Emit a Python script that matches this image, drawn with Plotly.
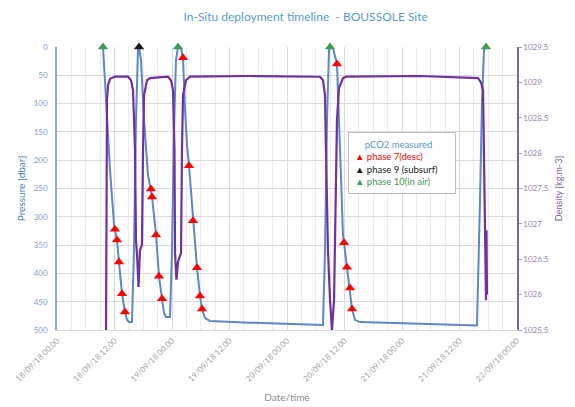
import plotly.graph_objects as go

# ---------------- data ----------------
# Pressure (pCO2 measured) profile: time, pressure [dbar]
pres_time = [
    "2018-09-18 09:36", "2018-09-18 10:14", "2018-09-18 11:04", "2018-09-18 11:54",
    "2018-09-18 12:06", "2018-09-18 12:31", "2018-09-18 12:56", "2018-09-18 13:34",
    "2018-09-18 14:11", "2018-09-18 14:37", "2018-09-18 15:02", "2018-09-18 15:39",
    "2018-09-18 16:04", "2018-09-18 16:29", "2018-09-18 16:54", "2018-09-18 17:07",
    "2018-09-18 17:32", "2018-09-18 18:10", "2018-09-18 18:59", "2018-09-18 19:37",
    "2018-09-18 19:50", "2018-09-18 20:40", "2018-09-18 21:17", "2018-09-18 21:55",
    "2018-09-18 22:20", "2018-09-18 22:45", "2018-09-18 23:35", "2018-09-19 00:00",
    "2018-09-19 00:25", "2018-09-19 00:50", "2018-09-19 01:15", "2018-09-19 01:53",
    "2018-09-19 02:18", "2018-09-19 02:43", "2018-09-19 03:08", "2018-09-19 03:33",
    "2018-09-19 04:23", "2018-09-19 05:13", "2018-09-19 05:51", "2018-09-19 06:16",
    "2018-09-19 06:53", "2018-09-19 07:56", "2018-09-19 16:17", "2018-09-20 02:43",
    "2018-09-20 07:31", "2018-09-20 07:56", "2018-09-20 08:21", "2018-09-20 08:46",
    "2018-09-20 09:11", "2018-09-20 09:36", "2018-09-20 10:26", "2018-09-20 11:04",
    "2018-09-20 11:41", "2018-09-20 11:54", "2018-09-20 12:31", "2018-09-20 13:09",
    "2018-09-20 13:34", "2018-09-20 14:11", "2018-09-20 15:14", "2018-09-21 03:46",
    "2018-09-21 15:39", "2018-09-21 16:17", "2018-09-21 16:42", "2018-09-21 17:07",
    "2018-09-21 17:32",
]
pres_val = [
    0, 94, 217, 314,
    322, 341, 380, 436,
    468, 482, 486, 486,
    359, 129, 5, 0,
    23, 129, 226, 251,
    265, 332, 405, 445,
    470, 477, 477, 359,
    147, 23, 0, 2,
    19, 111, 173, 210,
    307, 390, 440, 463,
    479, 484, 487, 489,
    491, 359, 129, 5,
    0, 2, 30, 182,
    332, 346, 389, 426,
    463, 482, 486, 489,
    492, 270, 94, 5,
    0,
]

# Density profile: time, density [kg.m-3]
dens_time = [
    "2018-09-18 10:14", "2018-09-18 10:20", "2018-09-18 10:26", "2018-09-18 10:39",
    "2018-09-18 11:04", "2018-09-18 12:06", "2018-09-18 14:49", "2018-09-18 15:27",
    "2018-09-18 15:52", "2018-09-18 16:17", "2018-09-18 16:29", "2018-09-18 16:42",
    "2018-09-18 17:01", "2018-09-18 17:19", "2018-09-18 17:44", "2018-09-18 17:57",
    "2018-09-18 18:10", "2018-09-18 18:47", "2018-09-18 19:25", "2018-09-18 23:10",
    "2018-09-18 23:47", "2018-09-19 00:13", "2018-09-19 00:31", "2018-09-19 00:38",
    "2018-09-19 00:56", "2018-09-19 01:15", "2018-09-19 01:53", "2018-09-19 02:05",
    "2018-09-19 02:18", "2018-09-19 02:55", "2018-09-19 03:45", "2018-09-19 16:17",
    "2018-09-20 06:53", "2018-09-20 07:31", "2018-09-20 07:56", "2018-09-20 08:08",
    "2018-09-20 08:33", "2018-09-20 08:59", "2018-09-20 09:23", "2018-09-20 09:49",
    "2018-09-20 10:14", "2018-09-20 10:26", "2018-09-20 10:51", "2018-09-20 11:41",
    "2018-09-20 12:19", "2018-09-21 03:46", "2018-09-21 15:52", "2018-09-21 16:29",
    "2018-09-21 16:55", "2018-09-21 17:07", "2018-09-21 17:19", "2018-09-21 17:32",
    "2018-09-21 17:38", "2018-09-21 17:44",
]
dens_val = [
    1025.5, 1028.04, 1028.75, 1028.96,
    1029.05, 1029.08, 1029.08, 1029.03,
    1028.89, 1028.04, 1026.77, 1026.56,
    1026.11, 1026.63, 1026.70, 1028.04,
    1028.82, 1029.03, 1029.06, 1029.08,
    1029.03, 1028.89, 1028.04, 1026.59,
    1026.21, 1026.46, 1026.59, 1028.04,
    1028.82, 1029.03, 1029.08, 1029.09,
    1029.08, 1029.03, 1028.82, 1028.04,
    1026.63, 1025.92, 1025.5, 1025.92,
    1027.34, 1028.47, 1028.92, 1029.06,
    1029.08, 1029.09, 1029.06, 1029.0,
    1028.89, 1028.04, 1026.63, 1025.92,
    1026.91, 1026.0,
]

# phase 7 (descent) markers
p7_time = [
    "2018-09-18 12:06", "2018-09-18 12:31", "2018-09-18 12:56", "2018-09-18 13:34", "2018-09-18 14:11",
    "2018-09-18 19:37", "2018-09-18 19:50", "2018-09-18 20:40", "2018-09-18 21:17", "2018-09-18 21:55",
    "2018-09-19 02:18", "2018-09-19 03:33", "2018-09-19 04:23", "2018-09-19 05:13", "2018-09-19 05:51",
    "2018-09-19 06:16",
    "2018-09-20 10:26", "2018-09-20 11:54", "2018-09-20 12:31", "2018-09-20 13:09", "2018-09-20 13:34",
]
p7_val = [
    322, 341, 380, 436, 468,
    251, 265, 332, 405, 445,
    19, 210, 307, 390, 440,
    463,
    30, 346, 389, 426, 463,
]

# phase 9 (subsurf) markers
p9_time = ["2018-09-18 17:07"]
p9_val = [0]

# phase 10 (in air) markers
p10_time = ["2018-09-18 09:36", "2018-09-19 01:15", "2018-09-20 08:59", "2018-09-21 17:32"]
p10_val = [0, 0, 0, 0]

legend_labels = ["pCO2 measured", "phase 7(desc)", "phase 9 (subsurf)", "phase 10(in air)"]

# ---------------- styles ----------------
BLUE = "#5b87cc"
PURPLE = "#7030a0"
RED = "#ff0000"
BLACK = "#1a1a1a"
GREEN = "#3f9a55"
FONT = "Lato"

fig = go.Figure()

fig.add_trace(go.Scatter(x=dens_time, y=dens_val, mode="lines", yaxis="y2",
                         line=dict(color=PURPLE, width=2.2), showlegend=False))
fig.add_trace(go.Scatter(x=pres_time, y=pres_val, mode="lines",
                         line=dict(color=BLUE, width=2), showlegend=False))
fig.add_trace(go.Scatter(x=p7_time, y=p7_val, mode="markers", cliponaxis=False,
                         marker=dict(symbol="triangle-up", color=RED, size=9), showlegend=False))
fig.add_trace(go.Scatter(x=p9_time, y=p9_val, mode="markers", cliponaxis=False,
                         marker=dict(symbol="triangle-up", color=BLACK, size=9), showlegend=False))
fig.add_trace(go.Scatter(x=p10_time, y=p10_val, mode="markers", cliponaxis=False,
                         marker=dict(symbol="triangle-up", color=GREEN, size=9), showlegend=False))

legend_text = (
    f"<span style='color:#4f9ad6'>\u00a0\u00a0\u00a0\u00a0{legend_labels[0]}</span><br>"
    f"<span style='color:{RED}'>\u25b2 {legend_labels[1]}</span><br>"
    f"<span style='color:{BLACK}'>\u25b2 {legend_labels[2]}</span><br>"
    f"<span style='color:{GREEN}'>\u25b2 {legend_labels[3]}</span>"
)

# page body has an 8px margin: figure is 567x399, offset by 8px
W, H = 567, 399
fig.update_layout(
    width=W, height=H,
    margin=dict(l=49, r=58, t=39, b=77),
    paper_bgcolor="white", plot_bgcolor="white",
    font=dict(family=FONT),
    separators=".,",
    title=dict(text="In-Situ deployment timeline  - BOUSSOLE Site",
               x=0.525, xanchor="center", y=1 - 9 / H, yanchor="middle",
               font=dict(size=12, color="#5b9bd5", family=FONT)),
    xaxis=dict(
        type="date", automargin=False,
        range=["2018-09-18 00:00", "2018-09-22 00:00"],
        tick0="2018-09-18 00:00", dtick=12 * 3600 * 1000,
        tickformat="%d/%m/%y %H.%M", tickangle=-45,
        tickfont=dict(size=8, color="#a6a6a6"),
        showgrid=True, gridcolor="#dcdcdc", gridwidth=1,
        minor=dict(dtick=3 * 3600 * 1000, showgrid=True, gridcolor="#ececec", gridwidth=1),
        showline=True, linecolor="#d9d9d9", linewidth=1,
        ticks="", zeroline=False, ticklabelstandoff=2,
        title=dict(text="Date/time", font=dict(size=10, color="#8c8c8c"), standoff=11),
    ),
    yaxis=dict(
        automargin=False,
        range=[500, 0], dtick=50, tick0=0,
        tickfont=dict(size=8, color="#7f9fd4"),
        showgrid=True, gridcolor="#dcdcdc", gridwidth=1,
        showline=True, linecolor="#8eaadb", linewidth=1.5,
        zeroline=False, ticks="", ticklabelstandoff=6,
        title=dict(text="Pressure [dbar]", font=dict(size=10, color="#4a7cc4"), standoff=6),
    ),
    yaxis2=dict(
        automargin=False,
        range=[1025.5, 1029.5], dtick=0.5, tick0=1025.5, tickformat=".1~f",
        overlaying="y", side="right",
        tickfont=dict(size=8, color="#9b80c0"),
        showgrid=False, zeroline=False,
        showline=True, linecolor="#8064a2", linewidth=1.5,
        ticks="outside", ticklen=3, tickcolor="#a6a6a6", ticklabelstandoff=0,
        title=dict(text="Density [kg.m-3]", font=dict(size=9, color="#8064a2"), standoff=8),
    ),
    annotations=[dict(
        xref="paper", yref="paper", x=(348 - 57) / 460, y=(330 - 132) / 283,
        xanchor="left", yanchor="top", align="left", showarrow=False,
        text=legend_text, font=dict(size=9.5, family=FONT),
        bordercolor="#bfbfbf", borderwidth=1, borderpad=6, bgcolor="white",
        width=94,
    )],
)

fig.write_html("out.html")
